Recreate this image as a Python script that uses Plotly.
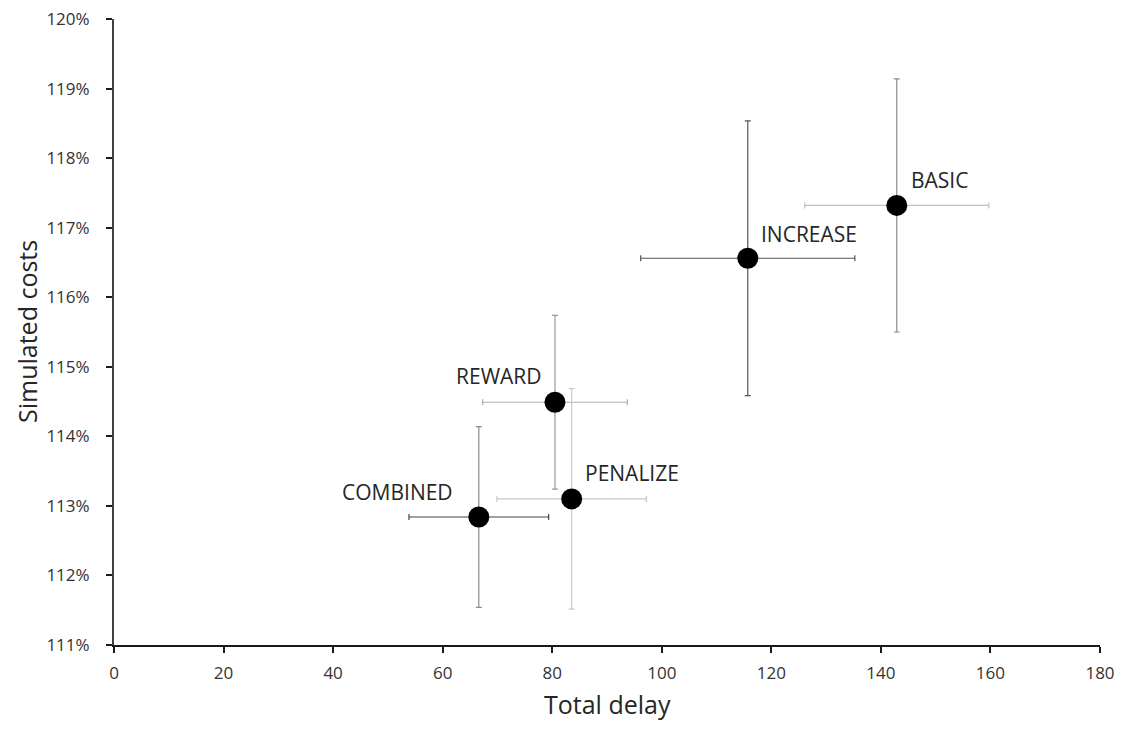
import plotly.graph_objects as go

names = ["BASIC", "INCREASE", "REWARD", "PENALIZE", "COMBINED"]
delay = [142.9, 115.7, 80.5, 83.55, 66.6]
costs = [117.32, 116.56, 114.49, 113.10, 112.84]
delay_err = [16.8, 19.55, 13.2, 13.65, 12.75]
costs_err = [1.82, 1.975, 1.25, 1.585, 1.30]

x_ticks = [0, 20, 40, 60, 80, 100, 120, 140, 160, 180]
y_ticks = [111, 112, 113, 114, 115, 116, 117, 118, 119, 120]
y_tick_text = [f"{v}%" for v in y_ticks]

# styling per point (not data)
xerr_colors = ["#c0c0c0", "#555555", "#b0b0b0", "#c8c8c8", "#444444"]
yerr_colors = ["#8c8c8c", "#555555", "#999999", "#cccccc", "#8c8c8c"]
label_pos = {  # xanchor, xshift, yshift
    "BASIC": ("left", 12, 25),
    "INCREASE": ("left", 11, 24),
    "REWARD": ("right", -11, 26),
    "PENALIZE": ("left", 11, 26),
    "COMBINED": ("right", -24, 25),
}

font_family = "Open Sans"
txt_color = "#262626"

fig = go.Figure()
for i, n in enumerate(names):
    fig.add_trace(go.Scatter(
        x=[delay[i]], y=[costs[i]], mode="markers", name=n,
        marker=dict(color="black", size=21),
        error_x=dict(type="data", array=[delay_err[i]], color=xerr_colors[i], thickness=1.2, width=3),
        error_y=dict(type="data", array=[costs_err[i]], color=yerr_colors[i], thickness=1.2, width=3),
        showlegend=False,
    ))
    xa, xs, ys = label_pos[n]
    fig.add_annotation(x=delay[i], y=costs[i], text=n, showarrow=False,
                       xanchor=xa, yanchor="middle", xshift=xs, yshift=ys,
                       font=dict(family=font_family, size=21, color=txt_color))

fig.add_annotation(text="Total delay", xref="paper", yref="paper", x=0.5, y=0,
                   xanchor="center", yanchor="middle", yshift=-59, showarrow=False,
                   font=dict(family=font_family, size=25, color=txt_color))
fig.add_annotation(text="Simulated costs", xref="paper", yref="paper", x=0, y=0.5,
                   xanchor="center", yanchor="middle", xshift=-87, textangle=-90, showarrow=False,
                   font=dict(family=font_family, size=25, color=txt_color))

fig.update_layout(
    width=1115, height=714,
    margin=dict(l=106, r=23, t=11, b=77, autoexpand=False),
    paper_bgcolor="white", plot_bgcolor="white",
    font=dict(family=font_family, size=17, color="#333333"),
    xaxis=dict(range=[0, 180], tickvals=x_ticks, showgrid=False, zeroline=False,
               showline=True, linecolor="#1a1a1a", linewidth=2,
               ticks="outside", ticklen=6, tickwidth=2, tickcolor="#1a1a1a",
               ticklabelstandoff=6, ticklabeloverflow="allow", automargin=False),
    yaxis=dict(range=[111, 120], tickvals=y_ticks, ticktext=y_tick_text,
               showgrid=False, zeroline=False,
               showline=True, linecolor="#404040", linewidth=2,
               ticks="outside", ticklen=6, tickwidth=2, tickcolor="#1a1a1a",
               ticklabelstandoff=13, ticklabeloverflow="allow", automargin=False),
)

fig.write_html("out.html")
